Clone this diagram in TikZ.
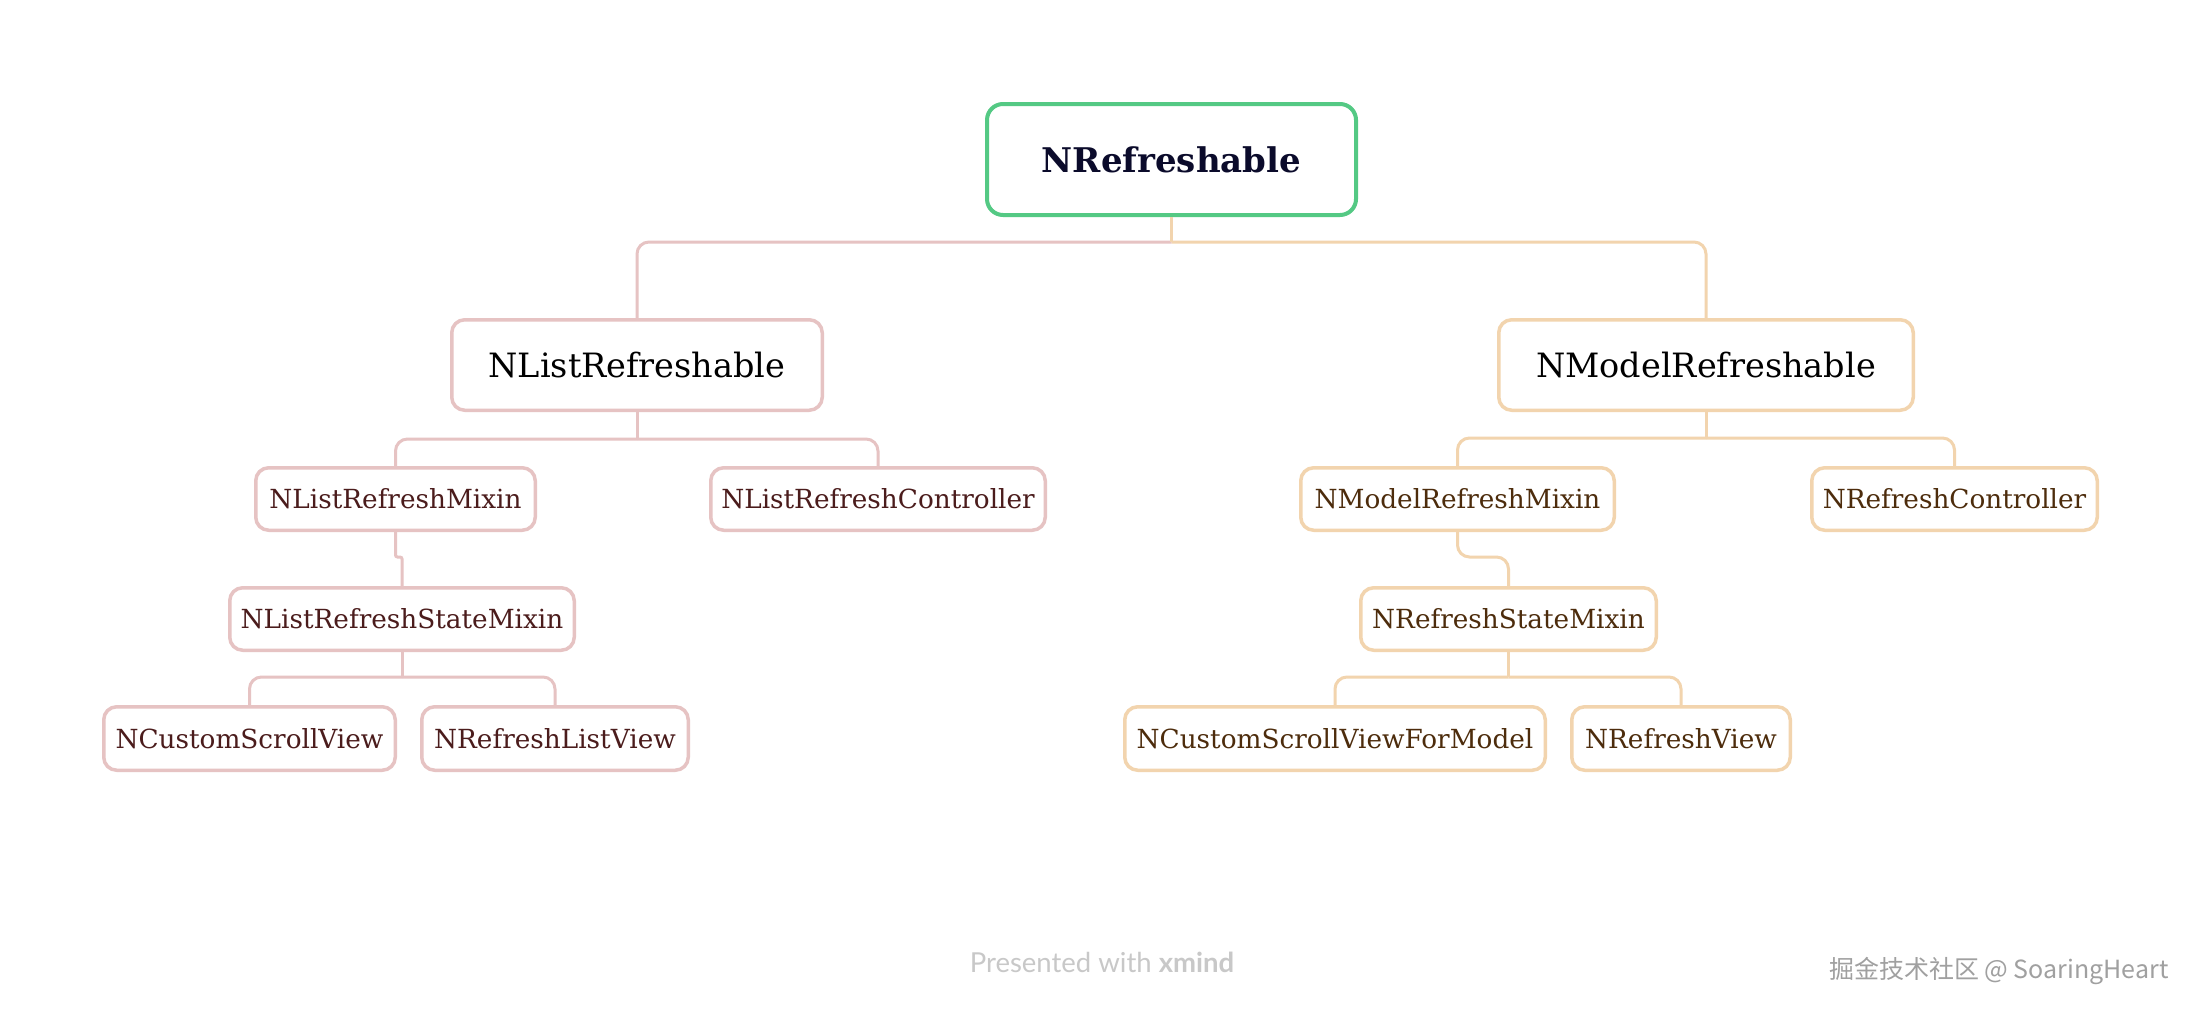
\documentclass[tikz,border=0pt]{standalone}
\usepackage{fontspec}
\setmainfont{DejaVu Serif}
\newfontfamily\cjkfont{Noto Sans CJK SC}
\newfontfamily\latofont{Lato}
\definecolor{rootgreen}{HTML}{54C984}
\definecolor{roottext}{HTML}{0B0B2B}
\definecolor{pinkline}{HTML}{E6C3C3}
\definecolor{peachline}{HTML}{F2D4AE}
\definecolor{ltext}{HTML}{4B1C1C}
\definecolor{rtext}{HTML}{4D2C0C}
\definecolor{footgray}{HTML}{C8C8C8}
\definecolor{wmgray}{HTML}{A0A0A0}
\tikzset{
  box/.style={draw, rounded corners=13pt, line width=3.5pt, fill=white, inner sep=0pt, align=center},
  rootbox/.style={box, draw=rootgreen, line width=4pt, rounded corners=16pt, font=\fontsize{34}{40}\selectfont\bfseries, text=roottext},
  lbox/.style={box, draw=pinkline},
  rbox/.style={box, draw=peachline},
  bigtext/.style={font=\fontsize{33.5}{40}\selectfont, text=black},
  lsmall/.style={font=\fontsize{26.3}{30}\selectfont, text=ltext},
  rsmall/.style={font=\fontsize{26.3}{30}\selectfont, text=rtext},
  lconn/.style={draw=pinkline, line width=3pt, rounded corners=12pt},
  rconn/.style={draw=peachline, line width=3pt, rounded corners=12pt},
}
\begin{document}
\begin{tikzpicture}[x=1pt, y=-1pt]
\fill[white] (0,0) rectangle (2200,1012);
\useasboundingbox (0,0) rectangle (2200,1012);

% nodes
\node[rootbox, minimum width=369pt, minimum height=111pt] (root) at (1171.5,159.5) {NRefreshable};
\node[lbox, bigtext, minimum width=370.5pt, minimum height=90.5pt] (nlist) at (637,365) {NListRefreshable};
\node[rbox, bigtext, minimum width=414.5pt, minimum height=90.5pt] (nmodel) at (1706,365) {NModelRefreshable};

\node[lbox, lsmall, minimum width=279.5pt, minimum height=62.5pt] (lmix) at (395.5,499) {NListRefreshMixin};
\node[lbox, lsmall, minimum width=334.5pt, minimum height=62.5pt] (lctrl) at (878,499) {NListRefreshController};
\node[lbox, lsmall, minimum width=344.5pt, minimum height=62.5pt] (lstate) at (402,619) {NListRefreshStateMixin};
\node[lbox, lsmall, minimum width=291.5pt, minimum height=63.5pt] (lscroll) at (249.5,738.5) {NCustomScrollView};
\node[lbox, lsmall, minimum width=266.5pt, minimum height=63.5pt] (llist) at (555,738.5) {NRefreshListView};

\node[rbox, rsmall, minimum width=313.5pt, minimum height=62.5pt] (rmix) at (1457.5,499) {NModelRefreshMixin};
\node[rbox, rsmall, minimum width=285.5pt, minimum height=62.5pt] (rctrl) at (1954.5,499) {NRefreshController};
\node[rbox, rsmall, minimum width=295.5pt, minimum height=62.5pt] (rstate) at (1508.5,619) {NRefreshStateMixin};
\node[rbox, rsmall, minimum width=420.5pt, minimum height=63.5pt] (rscroll) at (1335,738.5) {NCustomScrollViewForModel};
\node[rbox, rsmall, minimum width=218.5pt, minimum height=63.5pt] (rview) at (1681,738.5) {NRefreshView};

% connectors
\coordinate (j0) at (root.south |- 0,242);
\draw[lconn] (j0) -| (nlist.north);
\draw[rconn] (j0) -| (nmodel.north);
\draw[rconn] (root.south) -- (j0);

\coordinate (j1) at (nlist.south |- 0,439);
\draw[lconn] (nlist.south) -- (j1);
\draw[lconn] (j1) -| (lmix.north);
\draw[lconn] (j1) -| (lctrl.north);
\draw[lconn, rounded corners=2pt] (lmix.south) -- (lmix.south |- 0,557) -| (lstate.north);
\coordinate (j2) at (lstate.south |- 0,677);
\draw[lconn] (lstate.south) -- (j2);
\draw[lconn] (j2) -| (lscroll.north);
\draw[lconn] (j2) -| (llist.north);

\coordinate (j3) at (nmodel.south |- 0,438);
\draw[rconn] (nmodel.south) -- (j3);
\draw[rconn] (j3) -| (rmix.north);
\draw[rconn] (j3) -| (rctrl.north);
\draw[rconn] (rmix.south) -- (rmix.south |- 0,557) -| (rstate.north);
\coordinate (j4) at (rstate.south |- 0,677);
\draw[rconn] (rstate.south) -- (j4);
\draw[rconn] (j4) -| (rscroll.north);
\draw[rconn] (j4) -| (rview.north);

% footer
\node[font=\latofont\fontsize{27.5}{30}\selectfont, text=footgray] (foot) at (1102,962) {Presented with \textbf{xmind}};
\node[font=\cjkfont\fontsize{25}{28}\selectfont, text=wmgray, anchor=east] (wm) at (2172,971) {掘金技术社区 @ SoaringHeart};
\end{tikzpicture}
\end{document}
